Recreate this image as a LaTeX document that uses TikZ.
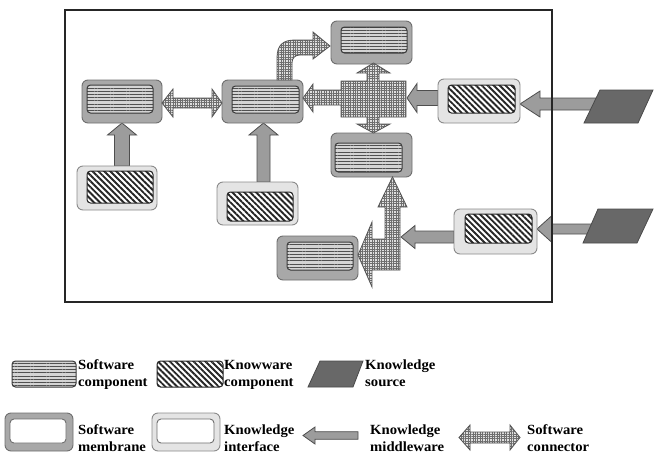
\documentclass[tikz,border=0pt]{standalone}
\usepackage{fontspec}
\newfontfamily\lblfont{Liberation Serif}[FakeStretch=1.05]
\usetikzlibrary{patterns.meta}
\definecolor{memfill}{HTML}{A8A8A8}
\definecolor{memline}{HTML}{6E6E6E}
\definecolor{intfill}{HTML}{E4E4E4}
\definecolor{intline}{HTML}{8A8A8A}
\definecolor{swbg}{HTML}{D4D4D4}
\definecolor{swstripe}{HTML}{505050}
\definecolor{swedge}{HTML}{3A3A3A}
\definecolor{kwstripe}{HTML}{262626}
\definecolor{srcfill}{HTML}{686868}
\definecolor{srcline}{HTML}{4A4A4A}
\definecolor{mwfill}{HTML}{9C9C9C}
\definecolor{mwline}{HTML}{4E4E4E}
\definecolor{cnbg}{HTML}{E0E0E0}
\definecolor{cngrid}{HTML}{6E6E6E}
\definecolor{cnline}{HTML}{555555}
\tikzset{
  box/.style={inner sep=0pt, outer sep=0pt},
  swmem/.style={box, draw=memline, line width=0.9pt, fill=memfill, rounded corners=6pt},
  kwint/.style={box, draw=intline, line width=0.9pt, fill=intfill, rounded corners=6pt},
  swcomp/.style={box, draw=swedge, line width=1pt, rounded corners=3.5pt,
     preaction={fill=swbg}, pattern={Lines[angle=0,distance=3.2pt,line width=1pt]}, pattern color=swstripe},
  kwcomp/.style={box, draw=kwstripe, line width=1pt, rounded corners=3.5pt,
     preaction={fill=white}, pattern={Lines[angle=-45,distance=4.2pt,line width=1.9pt]}, pattern color=kwstripe},
  plain/.style={box, draw=memline, line width=0.9pt, fill=white, rounded corners=4pt},
  ksrc/.style={draw=srcline, line width=0.8pt, fill=srcfill},
  mware/.style={draw=mwline, line width=0.8pt, fill=mwfill, line join=miter},
  conn/.style={draw=cnline, line width=0.8pt, preaction={fill=cnbg},
     pattern={Hatch[angle=0,distance=2.4pt,line width=0.5pt]}, pattern color=cngrid, line join=miter},
  frame/.style={box, draw=black!85, line width=1.6pt},
  lbl/.style={anchor=base west, inner sep=0pt, font={\lblfont\bfseries\fontsize{14}{16}\selectfont}}
}
% box node from corners: style, name, x1, y1, x2, y2
\newcommand{\bx}[6]{\node[#1, minimum width={(#5-#3)*1pt}, minimum height={(#6-#4)*1pt}] (#2) at ({(#3+#5)/2},{(#4+#6)/2}) {};}
% left-pointing block arrow: style, tip x, y, head base x, tail x, shaft half, head half
\newcommand{\arrL}[7]{\draw[#1] (#2,#3) -- (#4,{#3-#7}) -- (#4,{#3-#6}) -- (#5,{#3-#6}) -- (#5,{#3+#6}) -- (#4,{#3+#6}) -- (#4,{#3+#7}) -- cycle;}
% up-pointing block arrow: style, x, tip y, head base y, tail y, shaft half, head half
\newcommand{\arrU}[7]{\draw[#1] (#2,#3) -- ({#2+#7},#4) -- ({#2+#6},#4) -- ({#2+#6},#5) -- ({#2-#6},#5) -- ({#2-#6},#4) -- ({#2-#7},#4) -- cycle;}
% double horizontal block arrow: style, left tip, left base, right base, right tip, y, shaft half, head half
\newcommand{\arrLR}[8]{\draw[#1] (#2,#6) -- (#3,{#6-#8}) -- (#3,{#6-#7}) -- (#4,{#6-#7}) -- (#4,{#6-#8}) -- (#5,#6) -- (#4,{#6+#8}) -- (#4,{#6+#7}) -- (#3,{#6+#7}) -- (#3,{#6+#8}) -- cycle;}
\begin{document}
\begin{tikzpicture}[x=1pt,y=-1pt]
\useasboundingbox (0,0) rectangle (654,453);

% ---------- knowledge middleware arrows (under sources) ----------
\arrL{mware}{520}{104}{540}{596}{6}{13}
\arrL{mware}{537}{229}{552}{597}{5}{13.5}
\arrL{mware}{407}{98}{417}{438}{7.5}{14.5}
\arrL{mware}{401}{237}{415}{454}{6}{11.5}
\arrU{mware}{122}{123}{135}{166}{7.5}{14.5}
\arrU{mware}{263.5}{123}{135}{182}{6.5}{14.5}

% ---------- software membranes and components ----------
\bx{swmem}{sw1}{82}{80}{162}{123}
\bx{swcomp}{sc1}{87}{85}{153}{113}
\bx{swmem}{sw2}{222}{80}{303}{123}
\bx{swcomp}{sc2}{232}{86}{299}{113}
\bx{swmem}{sw3}{331}{21}{412}{64}
\bx{swcomp}{sc3}{341}{27}{407}{53}
\bx{swmem}{sw4}{331}{133}{412}{177}
\bx{swcomp}{sc4}{335}{143}{402}{172}
\bx{swmem}{sw5}{277}{236}{358}{280}
\bx{swcomp}{sc5}{287}{242}{353}{270}

% ---------- knowledge interfaces and knowware components ----------
\bx{kwint}{ki1}{77}{166}{157}{210}
\bx{kwcomp}{kc1}{87}{171}{153}{203}
\bx{kwint}{ki2}{217}{182}{298}{225}
\bx{kwcomp}{kc2}{227}{192}{293}{221}
\bx{kwint}{ki3}{438}{79}{520}{123}
\bx{kwcomp}{kc3}{448}{85}{515}{113}
\bx{kwint}{ki4}{454}{209}{537}{254}
\bx{kwcomp}{kc4}{465}{214}{532}{243}

% ---------- knowledge sources ----------
\draw[ksrc] (584,123) -- (600,90) -- (653,90) -- (638,123) -- cycle;
\draw[ksrc] (583,243) -- (598,209) -- (653,209) -- (637,243) -- cycle;

% ---------- software connectors ----------
\arrLR{conn}{162}{173}{212}{222}{103}{5}{14}
% curved connector
\draw[conn] (277,80) -- (277,58) .. controls (277,45) and (283,40) .. (295,40) -- (313,40) -- (313,32)
  -- (330,46) -- (313,59) -- (313,55) -- (300,55) .. controls (295,55) and (292,58) .. (292,63) -- (292,80) -- cycle;
% cross-shaped connector
\draw[conn] (341,90) -- (341,81) -- (367,81) -- (367,73) -- (357,73) -- (373.5,63) -- (390,73) -- (379,73)
  -- (379,81) -- (406,81) -- (406,117) -- (379,117) -- (379,124) -- (390,124) -- (373.5,133) -- (357,124)
  -- (367,124) -- (367,117) -- (341,117) -- (341,105) -- (313,105) -- (313,112) -- (303,98) -- (313,84)
  -- (313,90) -- cycle;
% L-shaped connector
\draw[conn] (392.5,177) -- (407,207) -- (400,207) -- (400,270) -- (372,270) -- (372,287) -- (358,255)
  -- (372,222) -- (372,239) -- (385,239) -- (385,207) -- (378,207) -- cycle;

% ---------- frame ----------
\bx{frame}{frm}{65}{10}{552}{302}

% ---------- legend ----------
\bx{swcomp}{lg1}{12}{361}{76}{387}
\node[lbl] (t1a) at (78,369.5) {Software};
\node[lbl] (t1b) at (78,386) {component};
\bx{kwcomp}{lg2}{157}{361}{223}{387}
\node[lbl] (t2a) at (224,369.5) {Knowware};
\node[lbl] (t2b) at (224,386) {component};
\draw[ksrc] (308,387) -- (320,361) -- (363,361) -- (353,387) -- cycle;
\node[lbl] (t3a) at (365,369.5) {Knowledge};
\node[lbl] (t3b) at (365,386) {source};

\bx{swmem}{lg4}{5}{413}{73}{451}
\bx{plain}{lg4i}{10}{419}{66}{443}
\node[lbl] (t4a) at (78,434.5) {Software};
\node[lbl] (t4b) at (78,451) {membrane};
\bx{kwint}{lg5}{152}{413}{220}{451}
\bx{plain}{lg5i}{157}{419}{214}{443}
\node[lbl] (t5a) at (224,434.5) {Knowledge};
\node[lbl] (t5b) at (224,451) {interface};
\arrL{mware}{303}{435.5}{315}{358}{3.8}{8.5}
\node[lbl] (t6a) at (370,434.5) {Knowledge};
\node[lbl] (t6b) at (370,451) {middleware};
\arrLR{conn}{459}{470}{510}{520}{437.5}{5.5}{12.5}
\node[lbl] (t7a) at (527,434.5) {Software};
\node[lbl] (t7b) at (527,451) {connector};
\end{tikzpicture}
\end{document}
